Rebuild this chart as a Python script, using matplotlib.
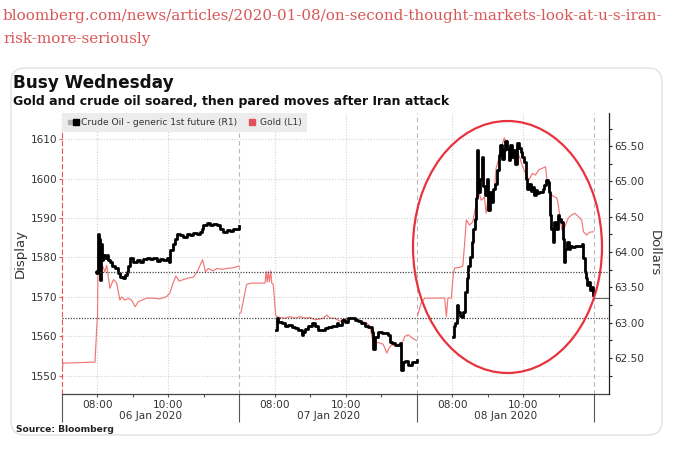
import matplotlib.pyplot as plt
from matplotlib.patches import FancyBboxPatch, Ellipse
from matplotlib.lines import Line2D
from matplotlib.legend_handler import HandlerTuple

# Each trading day shows the 07:00-12:00 window, days are packed side by side
days = ['06 Jan 2020', '07 Jan 2020', '08 Jan 2020']
session_start = 7.0
session_len = 5.0

# Gold (L1), clock hours and price per day
gold_t_d1 = [7.00, 7.03, 7.93, 7.98, 8.00, 8.02, 8.07, 8.15, 8.21, 8.26, 8.35, 8.45, 8.54, 8.63,
             8.68, 8.77, 8.87, 8.96, 9.06, 9.15, 9.25, 9.39, 9.57, 9.76, 9.95, 10.04, 10.13,
             10.21, 10.30, 10.42, 10.56, 10.70, 10.81, 10.96, 11.04, 11.12, 11.26, 11.36, 11.50,
             11.64, 11.83, 11.98]
gold_v_d1 = [1551.1, 1553.2, 1553.5, 1562.5, 1565.0, 1582.3, 1579.4, 1577.7, 1576.4, 1578.0,
             1572.2, 1574.4, 1573.5, 1569.2, 1570.0, 1569.2, 1569.6, 1569.2, 1567.5, 1568.8,
             1569.2, 1569.7, 1569.7, 1569.5, 1570.1, 1571.0, 1573.5, 1575.3, 1574.0, 1574.4,
             1574.8, 1575.0, 1576.4, 1579.4, 1576.4, 1577.2, 1576.6, 1577.2, 1577.0, 1577.2,
             1577.4, 1577.8]
gold_t_d2 = [7.04, 7.20, 7.34, 7.72, 7.75, 7.78, 7.81, 7.84, 7.88, 7.91, 7.95, 8.02, 8.05, 8.14,
             8.28, 8.42, 8.56, 8.70, 8.85, 8.99, 9.13, 9.27, 9.36, 9.46, 9.55, 9.69, 9.83, 9.92,
             10.01, 10.11, 10.21, 10.30, 10.44, 10.58, 10.68, 10.72, 10.77, 10.86, 10.96, 11.05,
             11.15, 11.21, 11.29, 11.38, 11.47, 11.57, 11.66, 11.75, 11.85, 11.94, 11.99]
gold_v_d2 = [1565.9, 1573.2, 1573.5, 1573.5, 1576.4, 1573.8, 1576.4, 1573.8, 1576.6, 1573.5,
             1573.2, 1565.4, 1565.0, 1564.8, 1564.6, 1565.0, 1564.6, 1565.0, 1564.6, 1564.8,
             1564.2, 1564.4, 1564.6, 1565.4, 1564.6, 1564.6, 1563.8, 1564.2, 1564.6, 1564.4,
             1564.6, 1564.2, 1563.8, 1563.4, 1562.6, 1560.4, 1558.3, 1558.5, 1558.3, 1558.0,
             1555.8, 1557.0, 1557.9, 1557.7, 1558.0, 1558.0, 1560.0, 1560.4, 1559.7, 1559.2,
             1558.9]
gold_t_d3 = [7.02, 7.12, 7.22, 7.78, 7.83, 7.87, 7.97, 8.02, 8.06, 8.20, 8.29, 8.34, 8.39, 8.48,
             8.57, 8.67, 8.71, 8.81, 8.90, 8.95, 8.99, 9.09, 9.18, 9.23, 9.32, 9.41, 9.46, 9.51,
             9.60, 9.65, 9.74, 9.79, 9.88, 9.97, 10.06, 10.15, 10.25, 10.34, 10.43, 10.53, 10.62,
             10.67, 10.75, 10.84, 10.94, 10.98, 11.08, 11.17, 11.26, 11.36, 11.45, 11.54, 11.64,
             11.69, 11.78, 11.87, 11.97]
gold_v_d3 = [1565.4, 1568.5, 1569.7, 1569.7, 1565.0, 1569.7, 1569.7, 1575.6, 1577.3, 1577.5,
             1577.8, 1583.2, 1589.5, 1588.2, 1589.0, 1593.7, 1597.5, 1594.5, 1595.3, 1591.2,
             1594.1, 1593.3, 1596.7, 1602.6, 1605.5, 1608.9, 1610.3, 1609.3, 1606.7, 1608.4,
             1604.8, 1606.9, 1605.7, 1603.2, 1601.3, 1599.6, 1601.3, 1600.9, 1602.2, 1602.6,
             1603.0, 1599.2, 1596.3, 1595.5, 1595.1, 1593.4, 1587.0, 1587.8, 1590.0, 1590.8,
             1591.2, 1590.4, 1589.5, 1586.5, 1585.7, 1586.4, 1586.5]

# Crude oil, generic 1st future (R1)
oil_t_d1 = [8.00, 8.02, 8.05, 8.07, 8.09, 8.12, 8.16, 8.21, 8.26, 8.30, 8.35, 8.40, 8.49, 8.59,
            8.63, 8.73, 8.77, 8.82, 8.87, 8.92, 9.01, 9.10, 9.20, 9.29, 9.39, 9.48, 9.57, 9.67,
            9.76, 9.85, 9.95, 10.02, 10.04, 10.12, 10.18, 10.25, 10.32, 10.42, 10.51, 10.61,
            10.70, 10.79, 10.89, 10.94, 10.98, 11.08, 11.17, 11.26, 11.36, 11.45, 11.54, 11.64,
            11.73, 11.83, 11.92, 11.99]
oil_v_d1 = [63.72, 64.26, 64.19, 63.60, 64.12, 63.89, 63.96, 63.91, 63.96, 63.89, 63.86, 63.81,
            63.77, 63.70, 63.65, 63.63, 63.67, 63.72, 63.81, 63.91, 63.86, 63.89, 63.86, 63.90,
            63.91, 63.90, 63.92, 63.88, 63.90, 63.89, 63.91, 63.86, 64.03, 64.12, 64.19, 64.26,
            64.24, 64.22, 64.26, 64.24, 64.27, 64.26, 64.28, 64.33, 64.38, 64.41, 64.39, 64.40,
            64.38, 64.33, 64.29, 64.31, 64.30, 64.32, 64.33, 64.37]
oil_t_d2 = [8.04, 8.05, 8.09, 8.19, 8.28, 8.37, 8.47, 8.56, 8.66, 8.75, 8.80, 8.85, 8.94, 9.03,
            9.13, 9.22, 9.32, 9.41, 9.50, 9.60, 9.69, 9.74, 9.78, 9.88, 9.97, 10.07, 10.16, 10.25,
            10.34, 10.43, 10.54, 10.62, 10.72, 10.77, 10.82, 10.91, 11.01, 11.10, 11.19, 11.24,
            11.29, 11.38, 11.47, 11.52, 11.55, 11.61, 11.66, 11.75, 11.85, 11.94, 12.00]
oil_v_d2 = [62.89, 63.06, 63.01, 62.99, 62.96, 62.97, 62.94, 62.92, 62.89, 62.82, 62.87, 62.91,
            62.96, 62.99, 62.96, 62.89, 62.90, 62.92, 62.94, 62.95, 62.96, 62.99, 62.97, 63.04,
            63.01, 63.07, 63.06, 63.04, 63.03, 62.99, 62.96, 62.94, 62.87, 62.63, 62.80, 62.87,
            62.86, 62.85, 62.82, 62.73, 62.71, 62.69, 62.68, 62.71, 62.33, 62.44, 62.46, 62.40,
            62.44, 62.45, 62.47]
oil_t_d3 = [8.02, 8.05, 8.07, 8.12, 8.16, 8.21, 8.26, 8.30, 8.35, 8.40, 8.45, 8.49, 8.54, 8.59,
            8.63, 8.66, 8.70, 8.73, 8.77, 8.82, 8.87, 8.92, 8.96, 9.01, 9.06, 9.10, 9.15, 9.20,
            9.25, 9.30, 9.34, 9.39, 9.44, 9.49, 9.54, 9.59, 9.62, 9.68, 9.73, 9.77, 9.82, 9.87,
            9.92, 9.96, 10.01, 10.06, 10.11, 10.15, 10.20, 10.25, 10.30, 10.34, 10.39, 10.44,
            10.49, 10.54, 10.58, 10.63, 10.68, 10.72, 10.74, 10.77, 10.82, 10.87, 10.92, 10.96,
            11.01, 11.06, 11.11, 11.14, 11.18, 11.22, 11.27, 11.32, 11.36, 11.45, 11.55, 11.64,
            11.67, 11.72, 11.75, 11.78, 11.83, 11.87, 11.92, 11.97]
oil_v_d3 = [62.80, 62.95, 62.99, 63.25, 63.15, 63.10, 63.08, 63.15, 63.44, 63.63, 63.81, 63.93,
            64.14, 64.33, 64.47, 64.76, 65.44, 64.85, 65.04, 65.35, 64.94, 64.81, 65.04, 64.59,
            64.85, 64.71, 64.90, 64.97, 65.16, 65.37, 65.51, 65.32, 65.44, 65.58, 65.46, 65.30,
            65.51, 65.35, 65.44, 65.25, 65.54, 65.47, 65.42, 65.35, 65.28, 65.04, 64.90, 64.97,
            64.87, 64.92, 64.81, 64.88, 64.83, 64.85, 64.85, 64.90, 64.95, 65.02, 64.99, 64.85,
            64.52, 64.33, 64.14, 64.42, 64.33, 64.52, 64.47, 64.42, 64.19, 63.86, 64.05, 64.14,
            64.05, 64.09, 64.07, 64.09, 64.09, 64.12, 63.91, 63.72, 63.63, 63.53, 63.58, 63.46,
            63.51, 63.39]

gold_t = [gold_t_d1, gold_t_d2, gold_t_d3]
gold_v = [gold_v_d1, gold_v_d2, gold_v_d3]
oil_t = [oil_t_d1, oil_t_d2, oil_t_d3]
oil_v = [oil_v_d1, oil_v_d2, oil_v_d3]

gold_ticks = [1550, 1560, 1570, 1580, 1590, 1600, 1610]
oil_ticks = [62.5, 63.0, 63.5, 64.0, 64.5, 65.0, 65.5]
gold_ref = 1564.6   # dotted reference line, gold axis
oil_ref = 63.72     # dotted reference line, oil axis
oil_last = 63.35

GOLD = '#f27676'
GOLD_KEY = '#e2505c'
TXT = '#333333'


def pos(day, clock):
    return [day * session_len + c - session_start for c in clock]


fig = plt.figure(figsize=(6.92, 4.51), dpi=100)
PX = 100.0  # pixels per inch, used for placing things in screen pixels
H = 451

# card behind the chart
card = FancyBboxPatch((11 / PX, (H - 435) / PX), 651 / PX, 367 / PX,
                      boxstyle='round,pad=0,rounding_size=0.14',
                      transform=fig.dpi_scale_trans, facecolor='white',
                      edgecolor='#dde2e8', lw=1.0, zorder=-5)
fig.add_artist(card)

url_kw = dict(fontfamily='DejaVu Serif', fontsize=10.9, color='#d95757', va='baseline')
fig.text(3 / 692, 1 - 20 / H, 'bloomberg.com/news/articles/2020-01-08/on-second-thought-markets-look-at-u-s-iran-', **url_kw)
fig.text(3 / 692, 1 - 43 / H, 'risk-more-seriously', **url_kw)

fig.text(13 / 692, 1 - 88 / H, 'Busy Wednesday', fontsize=12.2, fontweight='bold', color='#111111', va='baseline')
fig.text(13 / 692, 1 - 105 / H, 'Gold and crude oil soared, then pared moves after Iran attack',
         fontsize=9, fontweight='bold', color='#111111', va='baseline')
fig.text(16 / 692, 1 - 429 / H, 'Source: Bloomberg', fontsize=6.6, fontweight='bold', color='#222222', va='center')

ax = fig.add_axes([62 / 692, 57 / H, 547 / 692, 281 / H])
ax2 = ax.twinx()

for d in range(3):
    ax.plot(pos(d, gold_t[d]), gold_v[d], color=GOLD, lw=0.85)
    ax2.plot(pos(d, oil_t[d]), oil_v[d], color='black', lw=2.0, drawstyle='steps-post')

xmax = 15.41
ax.set_xlim(0, xmax)
ax.set_ylim(1545.4, 1616.6)
ax2.set_ylim(61.99, 65.97)

# grid
for g in gold_ticks:
    ax.axhline(g, color='#d2d2d2', lw=0.8, ls=(0, (1, 1.5)), zorder=0)
for d in range(3):
    for h in (8, 10):
        ax.axvline(d * session_len + h - session_start, color='#d2d2d2', lw=0.8, ls=(0, (1, 1.5)), zorder=0)
    ax.axvline((d + 1) * session_len, color='#b8b8b8', lw=0.8, ls=(0, (4, 3)), zorder=0)

# reference lines
ax.axhline(gold_ref, color='#444444', lw=0.9, ls=(0, (1, 1.2)))
ax2.plot([1.0, xmax], [oil_ref, oil_ref], color='#444444', lw=0.9, ls=(0, (1, 1.2)))
ax2.plot([1.0], [oil_ref], 'o', color='black', ms=2.5)
ax2.plot([pos(2, oil_t_d3)[-1], xmax], [oil_last, oil_last], color='#666666', lw=0.8, clip_on=False)

# spines
ax.spines['top'].set_visible(False)
ax2.spines['top'].set_visible(False)
ax.spines['right'].set_visible(False)
ax2.spines['left'].set_visible(False)
ax2.spines['bottom'].set_visible(False)
ax.spines['left'].set_color('#e85a5a')
ax.spines['left'].set_linestyle((0, (4, 3)))
ax.spines['left'].set_linewidth(0.8)
ax.spines['bottom'].set_color('#444444')
ax.spines['bottom'].set_linewidth(0.9)
ax2.spines['right'].set_color('#222222')
ax2.spines['right'].set_linewidth(0.9)

# left axis: gold
ax.set_yticks(gold_ticks)
ax.tick_params(axis='y', colors='#e85a5a', labelcolor=TXT, length=2.5, width=0.8, pad=0.8, labelsize=7.6)
ax.set_ylabel('Display', fontsize=9.5, color=TXT, labelpad=3)

# right axis: oil
ax2.set_yticks(oil_ticks)
ax2.set_yticklabels([f'{v:.2f}' for v in oil_ticks])
ax2.set_yticks([v + 0.25 for v in [62.0] + oil_ticks], minor=True)
ax2.tick_params(axis='y', which='both', colors='#222222', labelcolor=TXT, length=2.5, width=0.8, pad=1, labelsize=7.6)
ax2.set_ylabel('Dollars', fontsize=9.5, color=TXT, rotation=270, labelpad=12)

# x axis: day boundaries long ticks, hourly minor ticks
ax.set_xticks([0, 5, 10, 15])
ax.set_xticklabels([])
minor_pos = []
minor_lab = []
for d in range(3):
    for h, lab in zip((8, 9, 10, 11), ('08:00', '', '10:00', '')):
        minor_pos.append(d * session_len + h - session_start)
        minor_lab.append(lab)
ax.set_xticks(minor_pos, minor=True)
ax.set_xticklabels(minor_lab, minor=True)
ax.tick_params(axis='x', which='major', length=20, width=0.8, color='#555555')
ax.tick_params(axis='x', which='minor', length=2.5, width=0.8, color='#555555', pad=1.5,
               labelsize=7.6, labelcolor=TXT)
for d, name in enumerate(days):
    ax.text(d * session_len + session_len / 2, -0.078, name, transform=ax.get_xaxis_transform(),
            ha='center', va='center', fontsize=7.6, color=TXT)

# legend
oil_key = (Line2D([], [], marker='s', color='#b0b0b0', ls='none', ms=2.5),
           Line2D([], [], marker='s', color='black', ls='none', ms=4.5))
gold_key = Line2D([], [], marker='s', color=GOLD_KEY, ls='none', ms=4.5)
leg = ax2.legend([oil_key, gold_key], ['Crude Oil - generic 1st future (R1)', 'Gold (L1)'],
                 handler_map={tuple: HandlerTuple(ndivide=None, pad=0.1)}, loc='upper left',
                 bbox_to_anchor=(0, 1), ncol=2, frameon=True, facecolor='#ececec', edgecolor='none',
                 fancybox=False, framealpha=1, fontsize=6.6, handlelength=1.2, handletextpad=0.3,
                 columnspacing=1.0, borderaxespad=0, borderpad=0.55)
for t in leg.get_texts():
    t.set_color(TXT)

# red circle around the Wednesday move
circle = Ellipse((507.5 / PX, (H - 247) / PX), 189 / PX, 252 / PX, transform=fig.dpi_scale_trans,
                 fill=False, edgecolor='#e8333e', lw=1.6, zorder=10)
fig.add_artist(circle)

fig.savefig('out.png', dpi=100)
